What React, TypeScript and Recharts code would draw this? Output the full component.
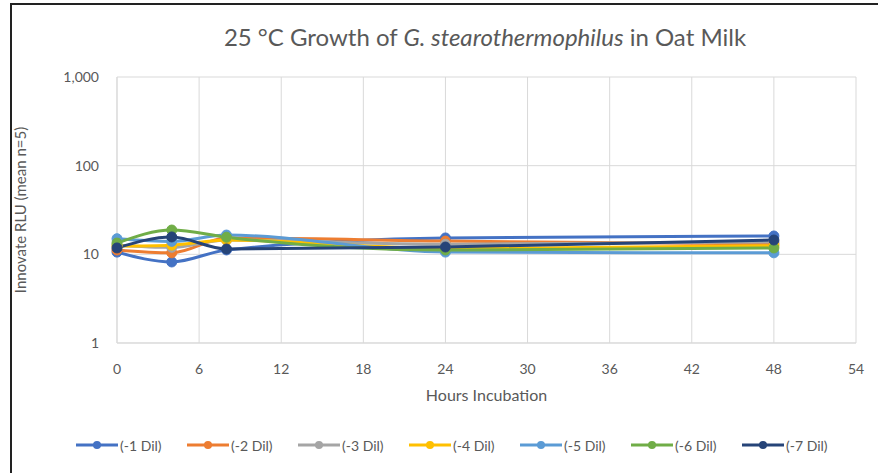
import { LineChart, Line, XAxis, YAxis, CartesianGrid, Label } from "recharts";

const hours = [0, 4, 8, 24, 48];
const dil1 = [10.6, 8.2, 11.2, 15.3, 16.1];
const dil2 = [11.2, 10.4, 15.3, 14.1, 13.1];
const dil3 = [12.7, 12.0, 14.5, 13.0, 13.8];
const dil4 = [12.4, 12.7, 14.5, 11.6, 12.5];
const dil5 = [15.0, 14.0, 16.5, 10.6, 10.4];
const dil6 = [13.4, 18.8, 15.6, 11.2, 11.8];
const dil7 = [11.8, 15.7, 11.5, 12.1, 14.5];

const seriesNames = ["(-1 Dil)", "(-2 Dil)", "(-3 Dil)", "(-4 Dil)", "(-5 Dil)", "(-6 Dil)", "(-7 Dil)"];
const seriesValues = [dil1, dil2, dil3, dil4, dil5, dil6, dil7];
const colors = ["#4472C4", "#ED7D31", "#A5A5A5", "#FFC000", "#5B9BD5", "#70AD47", "#264478"];
const xTicks = [0, 6, 12, 18, 24, 30, 36, 42, 48, 54];
const yTicks = [1, 10, 100, 1000];

const data = hours.map((h, i) => {
  const row: Record<string, number> = { hours: h };
  seriesNames.forEach((n, s) => {
    row[n] = seriesValues[s][i];
  });
  return row;
});

const font = "Lato, 'Open Sans', sans-serif";
const textColor = "#595959";

const App = () => {
  return (
    <div style={{ position: "absolute", left: 0, top: 0, width: 878, height: 473, background: "#fff", fontFamily: font, overflow: "hidden" }}>
      <div style={{ position: "absolute", left: 10, top: 3, width: 900, height: 500, borderLeft: "2px solid #222", borderTop: "2px solid #222" }} />
      <div style={{ position: "absolute", left: 0, top: 22, width: 970, textAlign: "center", fontSize: 24, color: textColor }}>
        25 °C Growth of <i>G. stearothermophilus</i> in Oat Milk
      </div>
      <LineChart width={878} height={473} data={data} margin={{ top: 77, right: 22, bottom: 70, left: 57 }} style={{ position: "absolute", left: 0, top: 0 }}>
        <CartesianGrid stroke="#d9d9d9" strokeWidth={1} />
        <XAxis
          dataKey="hours"
          type="number"
          domain={[0, 54]}
          ticks={xTicks}
          tick={{ fill: textColor, fontSize: 14, fontFamily: font }}
          tickLine={false}
          axisLine={{ stroke: "#d9d9d9" }}
          tickMargin={15}
          height={60}
        >
          <Label value="Hours Incubation" position="insideBottom" offset={2} style={{ fill: textColor, fontSize: 16, fontFamily: font }} />
        </XAxis>
        <YAxis
          scale="log"
          domain={[1, 1000]}
          ticks={yTicks}
          allowDataOverflow
          tickFormatter={(v: number) => v.toLocaleString("en-US")}
          tick={{ fill: textColor, fontSize: 14, fontFamily: font }}
          tickLine={false}
          axisLine={{ stroke: "#d9d9d9" }}
          tickMargin={12}
          width={60}
        >
          <Label value="Innovate RLU (mean n=5)" angle={-90} position="insideLeft" offset={-36} style={{ fill: textColor, fontSize: 15, fontFamily: font, textAnchor: "middle" }} />
        </YAxis>
        {seriesNames.map((n, i) => (
          <Line
            key={n}
            dataKey={n}
            type="monotone"
            stroke={colors[i]}
            strokeWidth={3}
            dot={{ r: 5, fill: colors[i], stroke: colors[i], strokeWidth: 1 }}
            isAnimationActive={false}
          />
        ))}
      </LineChart>
      <div style={{ position: "absolute", top: 435, left: 0, width: 878, height: 20 }}>
        {seriesNames.map((n, i) => (
          <div key={n} style={{ position: "absolute", left: 76 + i * 111, top: 0, display: "flex", alignItems: "center", fontSize: 14, color: textColor }}>
            <svg width={44} height={20}>
              <line x1={0} y1={10} x2={42} y2={10} stroke={colors[i]} strokeWidth={3} />
              <circle cx={21} cy={10} r={4} fill={colors[i]} />
            </svg>
            <span>{n}</span>
          </div>
        ))}
      </div>
    </div>
  );
};

export default App;
